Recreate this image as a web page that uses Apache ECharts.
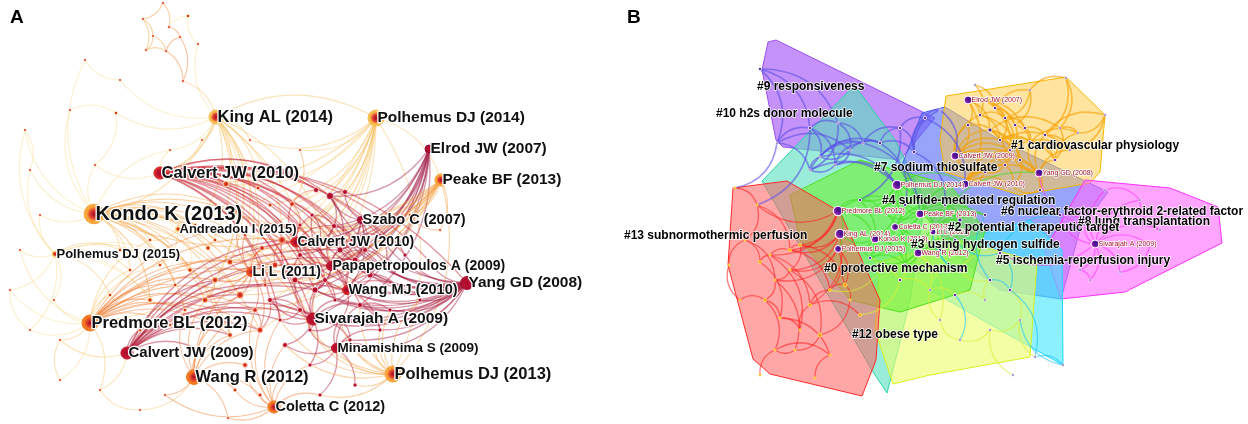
<!DOCTYPE html>
<html>
<head>
<meta charset="utf-8">
<script src="https://cdn.jsdelivr.net/npm/echarts@6/dist/echarts.min.js"></script>
<style>
html, body { margin: 0; padding: 0; background: #fff; }
#main { width: 1248px; height: 424px; }
</style>
</head>
<body>
<div id="main"></div>
<script>
var myChart = echarts.init(document.getElementById('main'));

// ---- panel A: co-citation network, [label, x, y, year, freq]
var nodesA = [
    ['King AL (2014)', 216, 117, 2014, 66],
    ['Polhemus DJ (2014)', 376, 118, 2014, 78],
    ['Elrod JW (2007)', 429, 149, 2007, 30],
    ['Peake BF (2013)', 441, 180, 2013, 55],
    ['Calvert JW (2010)', 160, 173, 2010, 55],
    ['Kondo K (2013)', 94, 214, 2013, 100],
    ['Szabo C (2007)', 361, 220, 2007, 24],
    ['Andreadou I (2015)', 178, 229, 2015, 12],
    ['Calvert JW (2010)', 296, 242, 2010, 42],
    ['Polhemus DJ (2015)', 55, 254, 2015, 18],
    ['Li L (2011)', 251, 272, 2011, 36],
    ['Papapetropoulos A (2009)', 331, 266, 2009, 36],
    ['Wang MJ (2010)', 347, 290, 2010, 36],
    ['Yang GD (2008)', 467, 283, 2008, 60],
    ['Predmore BL (2012)', 90, 323, 2012, 78],
    ['Sivarajah A (2009)', 313, 319, 2009, 55],
    ['Calvert JW (2009)', 127, 353, 2009, 55],
    ['Minamishima S (2009)', 336, 348, 2009, 36],
    ['Wang R (2012)', 194, 377, 2012, 72],
    ['Polhemus DJ (2013)', 393, 374, 2013, 78],
    ['Coletta C (2012)', 274, 407, 2012, 55],
    ['', 163, 3, 2013, 0], ['', 143, 19, 2013, 0], ['', 169, 27, 2012, 0], ['', 153, 36, 2013, 0],
    ['', 166, 51, 2012, 0], ['', 180, 37, 2012, 0], ['', 146, 50, 2013, 0], ['', 183, 81, 2012, 0],
    ['', 188, 16, 2015, 6], ['', 198, 44, 2015, 0], ['', 116, 113, 2015, 6], ['', 202, 140, 2014, 0],
    ['', 95, 165, 2015, 0], ['', 30, 170, 2015, 0], ['', 40, 215, 2015, 0], ['', 54, 300, 2015, 0],
    ['', 60, 340, 2014, 0], ['', 100, 390, 2014, 0], ['', 165, 395, 2013, 0], ['', 228, 418, 2012, 0],
    ['', 250, 140, 2014, 0], ['', 300, 150, 2013, 0], ['', 410, 215, 2013, 6], ['', 440, 230, 2012, 0],
    ['', 226, 184, 2012, 18], ['', 258, 188, 2012, 6], ['', 292, 204, 2011, 12], ['', 316, 190, 2009, 12],
    ['', 330, 196, 2008, 24], ['', 345, 192, 2009, 12], ['', 312, 215, 2009, 6], ['', 334, 226, 2009, 12],
    ['', 352, 240, 2008, 6], ['', 380, 236, 2009, 12], ['', 405, 255, 2008, 6], ['', 430, 262, 2009, 6],
    ['', 282, 240, 2011, 24], ['', 262, 248, 2011, 12], ['', 230, 262, 2012, 18], ['', 208, 248, 2013, 12],
    ['', 190, 270, 2013, 12], ['', 160, 265, 2014, 6], ['', 130, 270, 2014, 6], ['', 150, 300, 2013, 12],
    ['', 205, 300, 2012, 18], ['', 240, 295, 2011, 24], ['', 270, 300, 2010, 12], ['', 295, 280, 2010, 18],
    ['', 315, 290, 2009, 18], ['', 360, 305, 2009, 12], ['', 390, 310, 2009, 6], ['', 420, 300, 2008, 6],
    ['', 260, 330, 2011, 18], ['', 285, 345, 2010, 12], ['', 230, 335, 2012, 12], ['', 200, 350, 2012, 12],
    ['', 170, 325, 2013, 6], ['', 310, 365, 2010, 6], ['', 355, 385, 2009, 6], ['', 245, 365, 2011, 12],
    ['', 280, 380, 2011, 6], ['', 320, 395, 2010, 6], ['', 215, 240, 2013, 6], ['', 340, 320, 2009, 12],
    ['', 370, 275, 2009, 18], ['', 395, 285, 2009, 6], ['', 300, 255, 2010, 12], ['', 275, 265, 2011, 18],
    ['', 355, 260, 2009, 18],
    ['', 240, 215, 2012, 6], ['', 265, 225, 2011, 12], ['', 320, 240, 2009, 12], ['', 340, 250, 2008, 18],
    ['', 365, 250, 2009, 12], ['', 385, 265, 2009, 6], ['', 325, 280, 2009, 12], ['', 335, 300, 2009, 6],
    ['', 300, 310, 2010, 12], ['', 280, 320, 2010, 6], ['', 255, 310, 2011, 12], ['', 220, 320, 2012, 6],
    ['', 185, 310, 2013, 6], ['', 175, 285, 2013, 6], ['', 215, 280, 2012, 18], ['', 265, 285, 2011, 6],
    ['', 310, 330, 2009, 6], ['', 350, 340, 2009, 6], ['', 375, 350, 2009, 6], ['', 300, 225, 2010, 6],
    ['', 270, 205, 2011, 6], ['', 245, 235, 2012, 6], ['', 195, 225, 2013, 6], ['', 150, 240, 2014, 6],
    ['', 120, 250, 2014, 6], ['', 110, 295, 2014, 6], ['', 140, 330, 2013, 6], ['', 235, 390, 2012, 6],
    ['', 260, 395, 2011, 6], ['', 300, 410, 2010, 0], ['', 380, 330, 2009, 6],
    ['', 20, 250, 2015, 0], ['', 10, 290, 2015, 0], ['', 25, 130, 2015, 0], ['', 70, 110, 2015, 0],
    ['', 120, 80, 2015, 0], ['', 85, 60, 2015, 0], ['', 60, 380, 2015, 0], ['', 30, 330, 2015, 0],
    ['', 140, 410, 2014, 0], ['', 170, 150, 2015, 0]
];

// co-citation links of panel A, [source, [targets]]
var linksA = [
    [0, [30, 31, 32, 41, 45, 46, 57, 59, 66, 15, 11, 4, 5, 65, 10, 1, 112, 104, 90, 111, 60, 125, 130]],
    [1, [41, 42, 47, 57, 10, 59, 66, 5, 4, 14, 73, 19, 3, 45, 88, 91, 110, 109, 104, 105, 100]],
    [2, [49, 52, 53, 11, 15, 12, 54, 70, 93, 94, 92, 96, 68, 87, 69, 67]],
    [3, [43, 44, 57, 59, 66, 8, 10, 88, 58, 5, 68, 19, 91, 105, 104, 100, 111, 90]],
    [4, [45, 47, 48, 49, 52, 53, 11, 12, 15, 54, 55, 56, 13, 69, 89, 85, 33, 8, 93, 94, 92, 96, 97, 109, 130, 67, 68, 87, 98, 99, 106]],
    [5, [33, 34, 35, 60, 61, 62, 63, 59, 66, 10, 57, 65, 73, 75, 7, 83, 64, 88, 15, 113, 114, 112, 103, 104, 101, 102, 90, 111, 124, 123, 126, 130]],
    [6, [49, 50, 52, 54, 12, 11, 89, 93, 94, 92]],
    [7, [60, 62, 83, 61, 112, 113]],
    [8, [57, 47, 51, 52, 87, 89, 12, 109, 92, 93, 96, 91]],
    [9, [35, 36, 62, 63, 64, 77, 61, 34, 114, 115, 121, 122, 123, 128]],
    [10, [58, 59, 66, 88, 73, 65, 105, 104, 100, 111, 90]],
    [11, [51, 52, 53, 89, 85, 69, 12, 92, 93, 94, 96, 8, 87]],
    [12, [85, 86, 69, 84, 70, 96, 97, 95, 120, 89, 94]],
    [13, [54, 55, 56, 85, 86, 72, 71, 89, 12, 11, 15, 84, 70, 49, 93, 94, 95, 96, 97, 120, 108, 107, 92, 53, 52, 87, 68, 69, 67, 98]],
    [14, [36, 37, 38, 64, 77, 65, 66, 59, 57, 10, 73, 75, 62, 63, 11, 12, 115, 116, 102, 103, 104, 101, 100, 88, 91, 121, 122, 127, 128, 113]],
    [15, [69, 84, 67, 68, 74, 78, 70, 96, 97, 98, 99, 106, 107]],
    [16, [37, 38, 77, 76, 75, 73, 66, 69, 11, 12, 15, 89, 57, 116, 99, 100, 98, 105, 104, 93, 92]],
    [17, [78, 79, 82, 74, 84, 70, 106, 107, 108, 120]],
    [18, [39, 40, 76, 80, 75, 65, 73, 66, 10, 117, 118, 101, 102, 100, 129]],
    [19, [79, 82, 71, 72, 84, 17, 70, 74, 106, 107, 108, 120, 98, 99]],
    [20, [40, 81, 82, 78, 80, 74, 73, 39, 117, 118, 119, 99, 100]],
    [21, [22, 23]], [22, [24, 27]], [23, [26, 29]], [24, [27, 25]], [25, [26, 28]], [27, [25]], [26, [28]], [28, [0]],
    [44, [43]], [42, [47]], [32, [4]], [30, [29]], [31, [33]], [125, [126]], [124, [31]], [123, [34]],
    [128, [122]], [127, [37]], [129, [38]],
    [57, [58]], [58, [59]], [59, [60]], [66, [65]], [88, [57]], [92, [93]], [93, [94]], [94, [95]], [96, [97, 69, 68]],
    [98, [99]], [69, [96]], [68, [87, 57]], [87, [109]], [105, [88]], [100, [73]], [101, [75]], [104, [65]],
    [47, [48, 51, 109]], [49, [50, 52, 93]], [51, [52, 92]], [52, [53, 92]], [53, [54, 94]], [54, [55, 95]],
    [85, [86, 95, 89]], [89, [94, 93, 85]], [67, [98, 99, 73]], [84, [106, 107]], [70, [71, 120]]
];

// ---- panel B: clustered network, [label, x, y, cluster, freq]
var nodesB = [
    ['Elrod JW (2007)', 968, 100, 'c1', 30], ['Calvert JW (2009)', 955, 156, 'c1', 30],
    ['Yang GD (2008)', 1039, 173, 'c1', 30], ['Calvert JW (2010)', 965, 184, 'c1', 30],
    ['Polhemus DJ (2014)', 897, 185, 'c0', 40], ['Predmore BL (2012)', 838, 211, 'c13', 40],
    ['Peake BF (2013)', 920, 214, 'c0', 30], ['Coletta C (2012)', 895, 227, 'c0', 24],
    ['King AL (2014)', 840, 234, 'c13', 40], ['Li L (2011)', 933, 232, 'c0', 18],
    ['Kondo K (2013)', 875, 239, 'c0', 30], ['Polhemus DJ (2015)', 838, 249, 'c13', 24],
    ['Wang R (2012)', 918, 253, 'c0', 30], ['Sivarajah A (2009)', 1095, 244, 'c8', 30],
    ['', 980, 115, 'c1', 6], ['', 995, 108, 'c1', 6], ['', 1005, 118, 'c1', 6], ['', 1015, 125, 'c1', 6],
    ['', 1025, 128, 'c1', 6], ['', 990, 130, 'c1', 12], ['', 1000, 140, 'c1', 6], ['', 1010, 150, 'c1', 6],
    ['', 1030, 142, 'c1', 6], ['', 1045, 135, 'c1', 6], ['', 1060, 128, 'c1', 0], ['', 1020, 160, 'c1', 6],
    ['', 1005, 165, 'c1', 6], ['', 985, 172, 'c1', 6], ['', 1040, 190, 'c1', 6], ['', 1055, 160, 'c1', 6],
    ['', 1070, 150, 'c1', 0], ['', 1078, 133, 'c1', 0], ['', 1012, 186, 'c1', 6], ['', 968, 125, 'c1', 6],
    ['', 975, 85, 'c1', 0], ['', 1030, 90, 'c1', 0], ['', 1066, 78, 'c1', 0], ['', 1105, 115, 'c1', 0],
    ['', 760, 69, 'c10', 6], ['', 777, 143, 'c10', 0], ['', 810, 128, 'c10', 6], ['', 838, 123, 'c10', 0],
    ['', 850, 150, 'c10', 0], ['', 835, 165, 'c10', 0], ['', 810, 170, 'c10', 0], ['', 820, 157, 'c10', 0],
    ['', 863, 143, 'c10', 0], ['', 880, 143, 'c10', 6], ['', 900, 128, 'c10', 6], ['', 914, 152, 'c10', 6],
    ['', 925, 118, 'c10', 6], ['', 940, 110, 'c10', 0],
    ['', 735, 188, 'c13', 0], ['', 757, 205, 'c13', 0], ['', 745, 240, 'c13', 0], ['', 760, 262, 'c13', 6],
    ['', 770, 255, 'c13', 0], ['', 790, 250, 'c13', 6], ['', 800, 245, 'c13', 6], ['', 790, 270, 'c13', 0],
    ['', 775, 280, 'c13', 0], ['', 765, 300, 'c13', 6], ['', 780, 318, 'c13', 0], ['', 800, 330, 'c13', 0],
    ['', 810, 305, 'c13', 6], ['', 830, 290, 'c13', 6], ['', 845, 285, 'c13', 12], ['', 850, 300, 'c13', 0],
    ['', 820, 335, 'c13', 12], ['', 795, 350, 'c13', 0], ['', 775, 350, 'c13', 0], ['', 830, 355, 'c13', 0],
    ['', 860, 315, 'c13', 6], ['', 740, 300, 'c13', 0], ['', 729, 265, 'c13', 0], ['', 760, 375, 'c13', 0],
    ['', 815, 378, 'c13', 0],
    ['', 880, 270, 'c12', 6], ['', 900, 280, 'c12', 6], ['', 930, 290, 'c12', 0], ['', 955, 295, 'c12', 6],
    ['', 985, 300, 'c12', 0], ['', 990, 280, 'c5', 6], ['', 960, 270, 'c5', 12], ['', 1000, 253, 'c5', 6],
    ['', 1010, 290, 'c5', 6], ['', 1020, 320, 'c5', 0], ['', 990, 330, 'c12', 0], ['', 960, 340, 'c12', 0],
    ['', 940, 320, 'c12', 0], ['', 1035, 357, 'c12', 0], ['', 1063, 365, 'c5', 0], ['', 1013, 375, 'c12', 0],
    ['', 1060, 215, 'c8', 6], ['', 1085, 225, 'c8', 0], ['', 1105, 190, 'c8', 0], ['', 1140, 200, 'c8', 0],
    ['', 1150, 245, 'c8', 0], ['', 1120, 272, 'c8', 0], ['', 1080, 270, 'c8', 0], ['', 1090, 280, 'c8', 0],
    ['', 1160, 230, 'c8', 0],
    ['', 860, 200, 'c0', 6], ['', 880, 210, 'c0', 6], ['', 905, 205, 'c0', 6], ['', 945, 205, 'c0', 6],
    ['', 960, 220, 'c0', 12], ['', 985, 215, 'c0', 6], ['', 870, 258, 'c0', 6], ['', 905, 265, 'c0', 6],
    ['', 940, 250, 'c0', 6], ['', 955, 240, 'c0', 6]
];

// links of panel B, [cluster, source, [targets]]
var linksB = [
    ['c1', 0, [14, 15, 19, 33, 3, 18, 16, 17]], ['c1', 1, [14, 19, 20, 21, 33, 2, 26]],
    ['c1', 2, [25, 29, 30, 22, 28, 23, 21]], ['c1', 3, [26, 27, 25, 21, 2, 32]],
    ['c1', 14, [16, 25, 20]], ['c1', 15, [17, 35, 26, 16]], ['c1', 16, [18, 21, 20]], ['c1', 17, [22, 21]],
    ['c1', 18, [23, 22]], ['c1', 19, [24, 25, 26, 21]], ['c1', 20, [29, 22, 25, 30]], ['c1', 21, [30, 26]],
    ['c1', 22, [31, 29]], ['c1', 23, [37, 30]], ['c1', 24, [31, 29]], ['c1', 25, [28, 32]], ['c1', 26, [32, 27]],
    ['c1', 27, [1, 3]], ['c1', 28, [32]], ['c1', 29, [31]], ['c1', 33, [20, 1]], ['c1', 34, [14, 15]],
    ['c1', 35, [17, 36, 16]], ['c1', 36, [24, 23]], ['c1', 37, [31, 30]],
    ['c10', 38, [39, 40, 41]], ['c10', 39, [40, 44, 52, 42]], ['c10', 40, [41, 45, 53, 43]],
    ['c10', 41, [42, 46, 44]], ['c10', 42, [43, 47, 45]], ['c10', 43, [44, 4, 46]], ['c10', 44, [45, 4, 46]],
    ['c10', 45, [46, 4, 47]], ['c10', 46, [47, 6, 48]], ['c10', 47, [48, 104, 49]], ['c10', 48, [49, 102, 50]],
    ['c10', 49, [50, 105, 51]], ['c10', 50, [51, 3]], ['c10', 51, [1]],
    ['c13', 52, [53]], ['c13', 53, [54, 57]], ['c13', 54, [55, 60]], ['c13', 55, [56, 62]], ['c13', 56, [57, 63, 64]],
    ['c13', 57, [58, 65]], ['c13', 58, [59, 66]], ['c13', 59, [60, 68]], ['c13', 60, [61, 69]], ['c13', 61, [62, 70]],
    ['c13', 62, [63, 71]], ['c13', 63, [64]], ['c13', 64, [65, 72]], ['c13', 65, [66]], ['c13', 66, [67]],
    ['c13', 67, [68]], ['c13', 68, [69]], ['c13', 69, [70]], ['c13', 70, [71]], ['c13', 73, [74, 61]],
    ['c13', 74, [54]], ['c13', 75, [70]], ['c13', 76, [71]], ['c13', 5, [56, 57, 58, 53]],
    ['c13', 8, [57, 58, 59, 64]], ['c13', 11, [59, 60, 65, 66]],
    ['c0', 4, [5, 6, 7, 10, 102, 3, 103, 9]], ['c0', 5, [102, 8, 104, 10]], ['c0', 6, [7, 9, 10, 103, 104, 3, 106]],
    ['c0', 7, [10, 12, 107, 105, 108]], ['c0', 9, [12, 105, 106, 2, 107]], ['c0', 10, [12, 8, 11, 108, 109]],
    ['c0', 12, [108, 109, 110, 111, 106]], ['c0', 8, [11]], ['c0', 11, [108]],
    ['c0', 102, [103, 108]], ['c0', 103, [104, 109]], ['c0', 104, [105, 110]], ['c0', 105, [106, 111]],
    ['c0', 106, [107]], ['c0', 108, [109]], ['c0', 109, [110]], ['c0', 110, [111]],
    ['c12', 77, [78, 65]], ['c12', 78, [79, 72]], ['c12', 79, [80]], ['c12', 80, [81]], ['c12', 81, [82]],
    ['c12', 82, [83]], ['c12', 83, [84]], ['c12', 85, [86]], ['c12', 86, [87]], ['c12', 87, [88]],
    ['c12', 88, [89]], ['c12', 89, [79]], ['c12', 90, [86]], ['c12', 92, [87]], ['c12', 108, [77]],
    ['c12', 109, [78]], ['c12', 12, [79, 89]],
    ['c5', 84, [85, 111, 93]], ['c5', 85, [90]], ['c5', 90, [91]], ['c5', 82, [85, 107]], ['c5', 83, [110, 9]],
    ['c5', 91, [86]], ['c5', 80, [88]],
    ['c8', 13, [93, 94, 95, 96, 97, 98, 99, 100, 101, 84]], ['c8', 93, [94]], ['c8', 95, [96]], ['c8', 97, [98]],
    ['c8', 99, [100]], ['c8', 101, [96]], ['c8', 94, [2]]
];

// cluster hulls of panel B (drawn first = lowest)
var hullNames = ['#9', '#10', 'blue', '#1', '#8', '#5', '#12', '#0', '#13'];
var hullPoints = [
    [[768, 42], [776, 40], [935, 118], [900, 160], [830, 152], [783, 147], [776, 140], [762, 70]],
    [[850, 90], [858, 90], [895, 140], [925, 200], [910, 300], [898, 350], [887, 393], [873, 372], [762, 181]],
    [[922, 113], [945, 107], [1000, 140], [1108, 192], [1080, 230], [1061, 299], [1000, 290], [950, 250], [900, 170]],
    [[946, 96], [1066, 77], [1105, 115], [1100, 172], [1090, 183], [1020, 195], [945, 172], [940, 140]],
    [[1085, 180], [1170, 188], [1218, 207], [1222, 243], [1125, 292], [1061, 299], [1045, 250]],
    [[1063, 365], [1062, 250], [1030, 220], [960, 240], [930, 290], [1000, 330]],
    [[880, 262], [960, 240], [1037, 262], [1030, 357], [930, 375], [893, 384], [875, 330]],
    [[790, 195], [860, 160], [950, 185], [985, 230], [970, 290], [900, 312], [850, 300], [800, 240]],
    [[733, 188], [787, 181], [840, 212], [880, 300], [876, 360], [862, 396], [770, 374], [753, 359], [728, 265]]
];

// cluster labels of panel B, [text, x, y]
var clusterLabels = [
    ['#9 responsiveness', 757, 87],
    ['#10 h2s donor molecule', 716, 114],
    ['#1 cardiovascular physiology', 1011, 146],
    ['#7 sodium thiosulfate', 874, 168],
    ['#4 sulfide-mediated regulation', 882, 201],
    ['#6 nuclear factor-erythroid 2-related factor', 1001, 212],
    ['#8 lung transplantation', 1078, 222],
    ['#2 potential therapeutic target', 948, 228],
    ['#13 subnormothermic perfusion', 624, 236],
    ['#3 using hydrogen sulfide', 911, 245],
    ['#5 ischemia-reperfusion injury', 996, 261],
    ['#0 protective mechanism', 824, 269],
    ['#12 obese type', 852, 335]
];

// ---------- styles ----------
var yearCol = {
    2007: '#9c0d3a', 2008: '#ac1034', 2009: '#c0142e', 2010: '#d42626', 2011: '#ea5526',
    2012: '#f27a22', 2013: '#f7a53a', 2014: '#f8bd4e', 2015: '#f9d271'
};
var edgeCol = {
    2007: '#a3284f', 2008: '#a81c40', 2009: '#b41d3a', 2010: '#c82434', 2011: '#e3502a',
    2012: '#ef7a2c', 2013: '#f4a040', 2014: '#f6c264', 2015: '#f8dc90'
};
var labelSizeA = [16.5, 15.5, 15.5, 15.5, 16.5, 20, 14.5, 13, 14, 13, 14, 14, 14.5, 15.5, 16.5, 15.5, 15, 13.5, 16.5, 16.5, 14.5];

var clusterEdge = { c1: '#f5a000', c10: '#5a50e6', c13: '#ff2424', c0: '#3ede1c', c12: '#d8ee3a', c5: '#1ec4f0', c8: '#ff3cff' };

var hullStyle = {
    '#9': ['rgba(176,110,245,0.75)', '#9b4ff0'],
    '#10': ['rgba(90,225,190,0.62)', '#2ad6a6'],
    'blue': ['rgba(85,110,245,0.62)', '#4a5cf0'],
    '#1': ['rgba(255,205,80,0.55)', '#f5b800'],
    '#8': ['rgba(255,110,255,0.62)', '#ff30ff'],
    '#5': ['rgba(70,230,255,0.62)', '#20d8ff'],
    '#12': ['rgba(236,255,110,0.62)', '#d8f020'],
    '#0': ['rgba(110,240,50,0.6)', '#50e020'],
    '#13': ['rgba(255,95,95,0.55)', '#ff2a2a']
};

function ringA(year) {
    return new echarts.graphic.RadialGradient(0.5, 0.5, 0.5, [
        { offset: 0, color: '#a30c2c' },
        { offset: 0.4, color: year >= 2011 ? '#e2402a' : '#b8102e' },
        { offset: 0.7, color: yearCol[year] },
        { offset: 1, color: yearCol[year] }
    ]);
}
function sizeOf(freq) { return 3 + freq / 6; }

var dataA = nodesA.map(function (n, i) {
    var s = sizeOf(n[4]);
    return {
        id: 'a' + i,
        name: n[0],
        value: [n[1], n[2]],
        symbolSize: s,
        itemStyle: {
            color: ringA(n[3]),
            borderColor: n[0] ? yearCol[n[3]] : '#fff',
            borderWidth: n[0] ? 1 : 0.6
        },
        label: n[0] ? {
            show: true,
            position: 'right',
            distance: -s / 2 + 1,
            fontSize: labelSizeA[i]
        } : { show: false }
    };
});
var edgesA = [];
linksA.forEach(function (g) {
    g[1].forEach(function (t) {
        var ys = nodesA[g[0]][3], yt = nodesA[t][3];
        var y = yt >= 2014 ? yt : ys;
        edgesA.push({
            source: g[0], target: t,
            lineStyle: { color: edgeCol[y], width: y <= 2010 ? 1.4 : 1.1 }
        });
    });
});

var dataB = nodesB.map(function (n, i) {
    var s = sizeOf(n[4]);
    var labeled = !!n[0];
    var col;
    if (labeled) {
        col = new echarts.graphic.RadialGradient(0.6, 0.4, 0.6, [
            { offset: 0, color: '#3a0f8a' },
            { offset: 0.55, color: '#6a1aa0' },
            { offset: 1, color: '#e050d0' }
        ]);
    } else if (n[3] === 'c13') {
        col = '#f2a00a';
    } else {
        col = '#4a1890';
    }
    return {
        id: 'b' + i,
        name: n[0],
        value: [n[1], n[2]],
        symbolSize: labeled ? s : s * 0.8,
        itemStyle: {
            color: col,
            borderColor: n[3] === 'c13' && !labeled ? '#ffe36a' : '#ffffff',
            borderWidth: labeled ? 1 : 0.8
        },
        label: labeled ? {
            show: true,
            position: 'right',
            distance: -s / 2 + 3,
            fontSize: 7,
            fontWeight: 'normal',
            color: '#a0102c',
            textBorderColor: '#fff',
            textBorderWidth: 1.5
        } : { show: false }
    };
});
var edgesB = [];
linksB.forEach(function (g) {
    g[2].forEach(function (t) {
        edgesB.push({
            source: g[1], target: t,
            lineStyle: { color: clusterEdge[g[0]], width: g[0] === 'c1' || g[0] === 'c10' ? 1.7 : 1.3 }
        });
    });
});

var option = {
    animation: false,
    backgroundColor: '#fff',
    grid: { left: 0, right: 0, top: 0, bottom: 0 },
    xAxis: { type: 'value', min: 0, max: 1248, show: false },
    yAxis: { type: 'value', min: 0, max: 424, inverse: true, show: false },
    graphic: [
        { type: 'text', left: 10, top: 8, style: { text: 'A', font: 'bold 19px "Liberation Sans", Arial', fill: '#000' } },
        { type: 'text', left: 627, top: 8, style: { text: 'B', font: 'bold 19px "Liberation Sans", Arial', fill: '#000' } }
    ],
    series: [
        {
            type: 'custom',
            coordinateSystem: 'cartesian2d',
            clip: false,
            z: 1,
            silent: true,
            data: hullPoints.map(function (p) { return p[0]; }),
            renderItem: function (params, api) {
                var key = hullNames[params.dataIndex];
                var pts = hullPoints[params.dataIndex].map(function (p) { return api.coord(p); });
                return {
                    type: 'polygon',
                    shape: { points: pts },
                    style: { fill: hullStyle[key][0], stroke: hullStyle[key][1], lineWidth: 1, lineJoin: 'round' }
                };
            }
        },
        {
            type: 'graph',
            coordinateSystem: 'cartesian2d',
            layout: 'none',
            z: 2,
            silent: true,
            data: dataB,
            links: edgesB,
            lineStyle: { width: 1.3, opacity: 0.6, curveness: 0.35 },
            label: { fontFamily: '"Liberation Sans", Arial' }
        },
        {
            type: 'graph',
            coordinateSystem: 'cartesian2d',
            layout: 'none',
            z: 3,
            silent: true,
            data: dataA,
            links: edgesA,
            lineStyle: { width: 1.2, opacity: 0.45, curveness: 0.28 },
            label: {
                color: '#111',
                fontWeight: 'bold',
                fontFamily: '"Liberation Sans", Arial',
                textBorderColor: '#ffffff',
                textBorderWidth: 2.5
            }
        },
        {
            type: 'scatter',
            z: 5,
            silent: true,
            symbolSize: 0,
            itemStyle: { opacity: 1 },
            data: clusterLabels.map(function (c) { return { name: c[0], value: [c[1], c[2]] }; }),
            label: {
                show: true,
                position: 'right',
                distance: 0,
                formatter: '{b}',
                color: '#000',
                opacity: 1,
                fontSize: 12,
                fontWeight: 'bold',
                fontFamily: '"Liberation Sans", Arial',
                textBorderColor: 'rgba(255,255,255,0.85)',
                textBorderWidth: 1.5
            }
        }
    ]
};

myChart.setOption(option);
</script>
</body>
</html>
